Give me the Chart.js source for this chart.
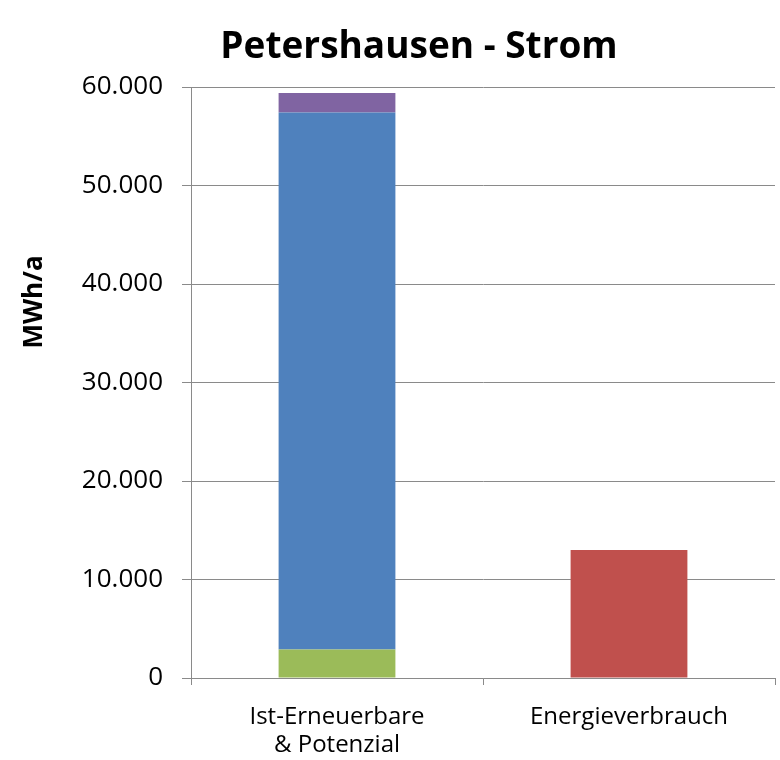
<!DOCTYPE html>
<html><head><meta charset="utf-8">
<script src="https://cdn.jsdelivr.net/npm/chart.js@4/dist/chart.umd.min.js"></script>
<style>html,body{margin:0;padding:0;background:#fff}#wrap{width:780px;height:760px;position:relative}</style>
</head><body><div id="wrap"><canvas id="c" width="780" height="760"></canvas></div>
<script>
// ---- data ----
const chartTitle = 'Petershausen - Strom';
const yAxisTitle = 'MWh/a';
const categories = [['Ist-Erneuerbare', '& Potenzial'], 'Energieverbrauch'];
const seriesNames = ['Ist-Erneuerbare', 'Potenzial', 'Weitere', 'Energieverbrauch'];
const istErneuerbare = [2900, null];
const potenzial = [54500, null];
const weitere = [2000, null];
const energieverbrauch = [null, 13000];
const yMin = 0, yMax = 60000, yStep = 10000;

const colors = ['#9BBB59', '#4F81BD', '#8064A2', '#C0504D'];
const gridColor = '#8a8a8a';
const FONT = '"Open Sans", "Liberation Sans", sans-serif';

function fmtDE(v) { return String(Math.round(v)).replace(/\B(?=(\d{3})+(?!\d))/g, '.'); }

const overlay = {
  id: 'overlay',
  afterDraw(chart) {
    const ctx = chart.ctx;
    ctx.save();
    ctx.fillStyle = '#000';
    ctx.textAlign = 'center';
    ctx.textBaseline = 'middle';
    ctx.font = 'bold 37px ' + FONT;
    ctx.fillText(chartTitle, 419, 47);
    ctx.translate(35, 302);
    ctx.rotate(-Math.PI / 2);
    ctx.font = 'bold 26px ' + FONT;
    ctx.fillText(yAxisTitle, 0, 0);
    ctx.restore();
  }
};

const seriesData = [istErneuerbare, potenzial, weitere, energieverbrauch];
new Chart(document.getElementById('c'), {
  type: 'bar',
  data: {
    labels: categories,
    datasets: seriesData.map((d, i) => ({
      label: seriesNames[i], data: d, backgroundColor: colors[i], borderWidth: 0,
      categoryPercentage: 1, barPercentage: 0.4
    }))
  },
  options: {
    responsive: false, animation: false, devicePixelRatio: 1,
    layout: { padding: { top: 87, right: 5, bottom: 0, left: 0 } },
    plugins: { legend: { display: false }, title: { display: false }, tooltip: { enabled: false } },
    scales: {
      x: {
        stacked: true,
        grid: { offset: true, drawOnChartArea: false, drawTicks: true, tickLength: 7, color: gridColor, lineWidth: 1 },
        border: { display: true, color: gridColor, width: 1 },
        ticks: { color: '#000', font: { family: FONT, size: 24, lineHeight: 1.17 }, padding: 18, maxRotation: 0 },
        afterFit(s) { s.height = 82; }
      },
      y: {
        stacked: true, min: yMin, max: yMax,
        grid: { color: gridColor, lineWidth: 1, tickLength: 9, drawTicks: true },
        border: { display: true, color: gridColor, width: 1 },
        ticks: { stepSize: yStep, color: '#000', font: { family: FONT, size: 26 }, padding: 19, callback: v => fmtDE(v) },
        afterFit(s) { s.width = 191; }
      }
    }
  },
  plugins: [overlay]
});
</script></body></html>
